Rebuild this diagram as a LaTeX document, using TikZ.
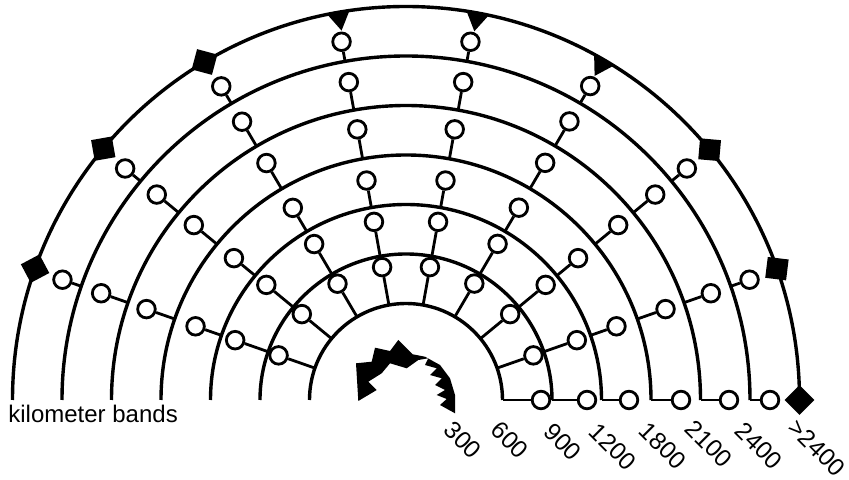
\documentclass[tikz,border=0pt]{standalone}
\usepackage{fontspec}
\setmainfont{Liberation Sans}
\usetikzlibrary{calc}
\tikzset{
  band/.style={line width=1.7pt},
  stem/.style={line width=1.4pt},
  site/.style={circle,draw,line width=1.4pt,fill=white,minimum size=8.8pt,inner sep=0pt},
  block/.style={rectangle,fill=black,minimum size=10.5pt,inner sep=0pt},
  kmlabel/.style={font=\fontsize{12.2}{14}\selectfont,rotate=-45,inner sep=0pt},
}

\begin{document}
\begin{tikzpicture}[x=0.5pt,y=0.5pt]
  \useasboundingbox (-406,-80) rectangle (443,400);
  % Band arcs
  \foreach \r in {96.5,146,195.5,245,294.5,344,393.5}
    \draw[band] (0:\r) arc[start angle=0,end angle=180,radius=\r];
  % Sites in each band
  \foreach \b/\ri/\rc in {1/96.5/135,2/146/181,3/195.5/223,4/245/275,5/294.5/323,6/344/364}
    \foreach \a [count=\i] in {0,19.3,39.5,59.6,79.8,100.2,120.5,140.5,160.7} {
      \coordinate (r\b-\i) at (\a:\ri);
      \node[site] (s\b-\i) at (\a:\rc) {};
      \draw[stem] (r\b-\i) -- (s\b-\i);
    }
  % Outer ring markers
  \node[block,rotate=45] (m0) at (0:393.5) {};
  \node[block,rotate=-7] (m20) at (19.5:393.5) {};
  \node[block,rotate=-5] (m40) at (39.5:393.5) {};
  \node[block,rotate=-15] (m120) at (120.8:393.5) {};
  \node[block,rotate=10] (m140) at (140.3:393.5) {};
  \node[block,rotate=28] (m160) at (160.5:393.5) {};
  \foreach \a in {59.8,79.5,99.9}
    \fill[rotate=\a] (394.5,-12) -- (394.5,12) -- (375,0) -- cycle;
  % Centre burst
  \fill (-47.7,-1) -- (-50,36.7) -- (-34.3,38.3) -- (-31,52.3) -- (-16,49)
    -- (-7.7,60) -- (6.7,45.7) -- (19,43.3) -- (34,35) -- (44,21.7)
    -- (49,5) -- (49,-13.3) -- (34,-5) -- (40.7,1) -- (30.7,5) -- (39,10)
    -- (29,15) -- (35.7,21.7) -- (24,25) -- (30.7,31.7) -- (19,35)
    -- (22.3,41.7) -- (12.3,40) -- (0.7,31.7) -- (-16,36.7) -- (-24.3,26.7)
    -- (-37.7,18.3) -- (-29.3,10) -- cycle;
  % Labels
  \node[font=\fontsize{12}{14}\selectfont,anchor=base west,inner sep=0pt] (kmb) at (-398,-23) {kilometer bands};
  \node[kmlabel] (l300) at (57,-40) {300};
  \node[kmlabel] (l600) at (104,-40) {600};
  \node[kmlabel] (l900) at (157,-42) {900};
  \node[kmlabel] (l1200) at (207,-47) {1200};
  \node[kmlabel] (l1800) at (257,-46) {1800};
  \node[kmlabel] (l2100) at (303,-44) {2100};
  \node[kmlabel] (l2400) at (353,-46) {2400};
  \node[kmlabel] (l2401) at (411,-48) {>2400};
\end{tikzpicture}
\end{document}
